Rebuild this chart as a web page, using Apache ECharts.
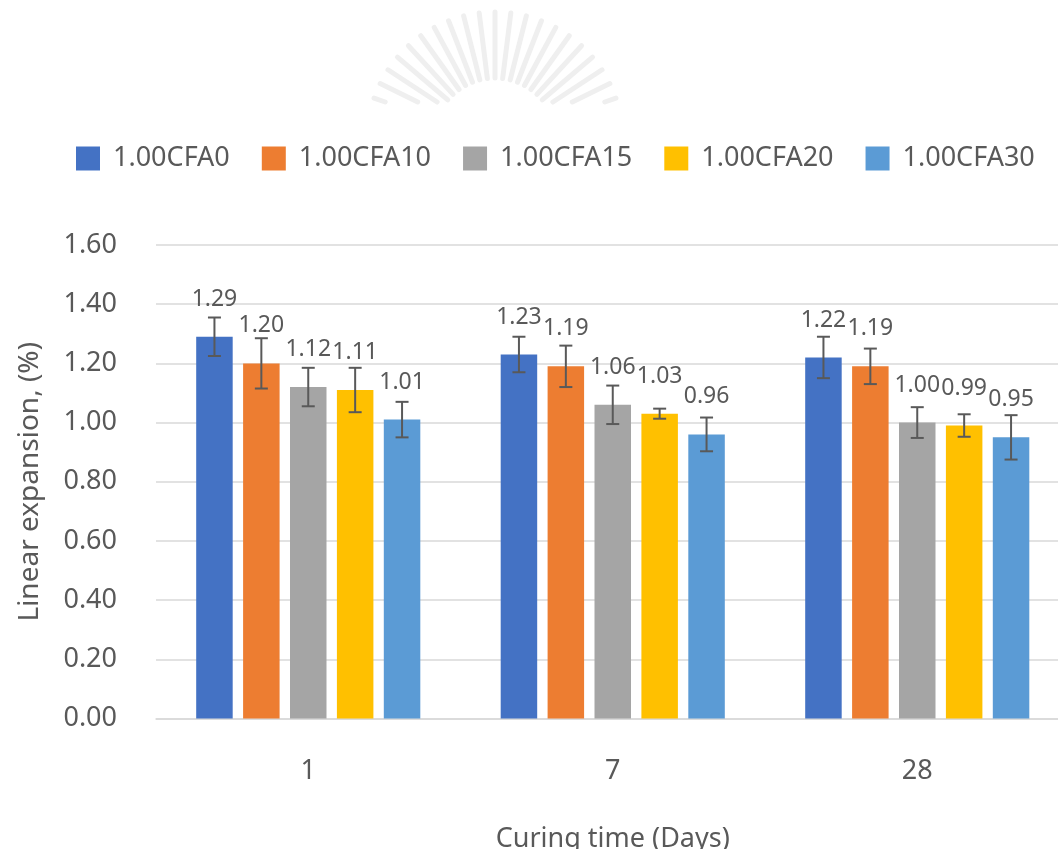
<!DOCTYPE html>
<html>
<head>
<meta charset="utf-8">
<script src="https://cdn.jsdelivr.net/npm/echarts@6/dist/echarts.min.js"></script>
<style>
html,body{margin:0;padding:0;background:#fff;overflow:hidden;}
#chart{width:1058px;height:849px;}
</style>
</head>
<body>
<div id="chart"></div>
<script>
const categories = ['1', '7', '28'];
const seriesNames = ['1.00CFA0', '1.00CFA10', '1.00CFA15', '1.00CFA20', '1.00CFA30'];
const cfa0  = [1.29, 1.23, 1.22];
const cfa10 = [1.20, 1.19, 1.19];
const cfa15 = [1.12, 1.06, 1.00];
const cfa20 = [1.11, 1.03, 0.99];
const cfa30 = [1.01, 0.96, 0.95];
const err0  = [0.065, 0.060, 0.070];
const err10 = [0.085, 0.070, 0.060];
const err15 = [0.065, 0.065, 0.052];
const err20 = [0.075, 0.017, 0.038];
const err30 = [0.060, 0.057, 0.075];
const yTicks = ['0.00','0.20','0.40','0.60','0.80','1.00','1.20','1.40','1.60'];

const values = [cfa0, cfa10, cfa15, cfa20, cfa30];
const errors = [err0, err10, err15, err20, err30];
const colors = ['#4472C4', '#ED7D31', '#A5A5A5', '#FFC000', '#5B9BD5'];
const TXT = '#595959';
const FONT = "'Noto Sans', sans-serif";
const BAR_W = 36.5;
const BAR_GAP = '28.5%';

const chart = echarts.init(document.getElementById('chart'), null, {renderer: 'canvas'});

const barSeries = seriesNames.map((name, si) => ({
  type: 'bar',
  name: name,
  data: values[si],
  barWidth: BAR_W,
  barGap: BAR_GAP,
  itemStyle: {color: colors[si]},
  label: {
    show: true,
    position: 'top',
    distance: 26,
    color: TXT,
    fontFamily: FONT,
    fontSize: 23,
    formatter: p => p.value.toFixed(2)
  },
  z: 2
}));

const errSeries = seriesNames.map((name, si) => ({
  type: 'custom',
  name: name,
  data: categories.map((c, i) => [i, values[si][i] - errors[si][i], values[si][i] + errors[si][i]]),
  encode: {x: 0, y: [1, 2]},
  z: 5,
  silent: true,
  renderItem: function (params, api) {
    const layout = api.barLayout({count: seriesNames.length, barWidth: BAR_W, barGap: BAR_GAP});
    const off = layout[si].offsetCenter;
    const lo = api.coord([api.value(0), api.value(1)]);
    const hi = api.coord([api.value(0), api.value(2)]);
    const x = lo[0] + off;
    const hw = 6.5;
    const st = {stroke: TXT, lineWidth: 2};
    return {
      type: 'group',
      children: [
        {type: 'line', shape: {x1: x, y1: hi[1], x2: x, y2: lo[1]}, style: st},
        {type: 'line', shape: {x1: x - hw, y1: hi[1], x2: x + hw, y2: hi[1]}, style: st},
        {type: 'line', shape: {x1: x - hw, y1: lo[1], x2: x + hw, y2: lo[1]}, style: st}
      ]
    };
  }
}));

// faint decorative watermark (fan of rays) at the top
const rays = [];
(function () {
  const cx = 495, cy = 140, r0 = 62, r1 = 128, clipY = 102;
  for (let k = 0; k <= 22; k++) {
    const a = (-168 + k * (156 / 22)) * Math.PI / 180;
    let x1 = cx + r0 * Math.cos(a), y1 = cy + r0 * Math.sin(a);
    let x2 = cx + r1 * Math.cos(a), y2 = cy + r1 * Math.sin(a);
    if (y2 > clipY) continue;
    if (y1 > clipY) {
      const t = (clipY - y2) / (y1 - y2);
      x1 = x2 + (x1 - x2) * t; y1 = clipY;
    }
    rays.push({type: 'line', silent: true, shape: {x1, y1, x2, y2},
      style: {stroke: '#efefef', lineWidth: 5, lineCap: 'round'}});
  }
})();

chart.setOption({
  animation: false,
  backgroundColor: '#ffffff',
  color: colors,
  graphic: rays,
  legend: {
    data: seriesNames,
    left: 71,
    top: 140,
    itemWidth: 24,
    itemHeight: 24,
    itemGap: 32,
    icon: 'rect',
    textStyle: {color: TXT, fontFamily: FONT, fontSize: 27, padding: [0, 0, 0, 8]}
  },
  grid: {left: 156, right: -11.5, top: 245, bottom: 130.5, containLabel: false, outerBoundsMode: 'none'},
  xAxis: {
    type: 'category',
    data: categories,
    axisLine: {show: true, lineStyle: {color: '#D9D9D9', width: 1.5}},
    axisTick: {show: false},
    axisLabel: {color: TXT, fontFamily: FONT, fontSize: 27, margin: 39},
    name: 'Curing time (Days)',
    nameLocation: 'middle',
    nameGap: 107,
    nameTextStyle: {color: TXT, fontFamily: FONT, fontSize: 27}
  },
  yAxis: {
    type: 'value',
    min: 0,
    max: 1.6,
    interval: 0.2,
    axisLine: {show: false},
    axisTick: {show: false},
    splitLine: {lineStyle: {color: '#D9D9D9', width: 1.5}},
    axisLabel: {
      color: TXT, fontFamily: FONT, fontSize: 27, margin: 39,
      formatter: v => yTicks[Math.round(v / 0.2)]
    },
    name: 'Linear expansion, (%)',
    nameLocation: 'middle',
    nameGap: 112,
    nameRotate: 90,
    nameTextStyle: {color: TXT, fontFamily: FONT, fontSize: 28}
  },
  series: barSeries.concat(errSeries)
});
</script>
</body>
</html>
